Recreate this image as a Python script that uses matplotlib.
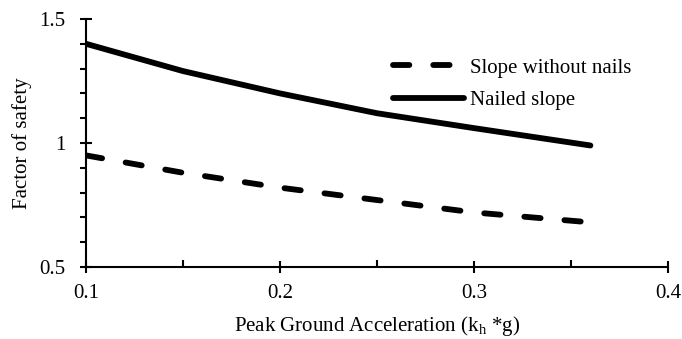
import matplotlib
matplotlib.use("Agg")
import matplotlib.pyplot as plt
from matplotlib.ticker import MultipleLocator

plt.rcParams["font.family"] = ["Liberation Serif", "DejaVu Serif"]
plt.rcParams["mathtext.fontset"] = "custom"
plt.rcParams["mathtext.rm"] = "Liberation Serif"
plt.rcParams["font.size"] = 15

# data
pga = [0.10, 0.15, 0.20, 0.25, 0.30, 0.36]
fs_no_nails = [0.95, 0.88, 0.82, 0.77, 0.72, 0.68]
fs_nailed = [1.40, 1.29, 1.20, 1.12, 1.06, 0.99]

fig = plt.figure(figsize=(6.82, 3.39), dpi=100)
ax = fig.add_axes([86 / 682, 72 / 339, 582 / 682, 248 / 339])

ax.plot(pga, fs_no_nails, color="black", lw=4.2, linestyle=(0, (2.8, 4.1)),
        dash_capstyle="round", solid_capstyle="round", label="Slope without nails")
ax.plot(pga, fs_nailed, color="black", lw=4.2, solid_capstyle="round",
        label="Nailed slope")

ax.set_xlim(0.1, 0.4)
ax.set_ylim(0.5, 1.5)
ax.xaxis.set_minor_locator(MultipleLocator(0.05))
ax.yaxis.set_minor_locator(MultipleLocator(0.1))
ax.set_xticks([0.1, 0.2, 0.3, 0.4], ["0.1", "0.2", "0.3", "0.4"])
ax.set_yticks([0.5, 1.0, 1.5], ["0.5", "1", "1.5"])

for side in ["top", "right"]:
    ax.spines[side].set_visible(False)
for side in ["left", "bottom"]:
    ax.spines[side].set_linewidth(1.5)

ax.tick_params(axis="x", which="major", direction="inout", length=9, width=1.5, pad=8)
ax.tick_params(axis="x", which="minor", direction="in", length=5, width=1.5)
ax.tick_params(axis="y", which="major", direction="inout", length=8, width=1.5, pad=11)
ax.tick_params(axis="y", which="minor", direction="out", length=4, width=1.5)

ax.set_xlabel(r"Peak Ground Acceleration (k$_\mathrm{h}$ *g)", labelpad=8)
ax.set_ylabel("Factor of safety", labelpad=5)

ax.legend(loc="center left", bbox_to_anchor=(0.5275, 0.738), frameon=False,
          handlelength=3.4, handletextpad=0.3, labelspacing=0.62,
          borderpad=0, borderaxespad=0)

fig.savefig("out.png", dpi=100)
